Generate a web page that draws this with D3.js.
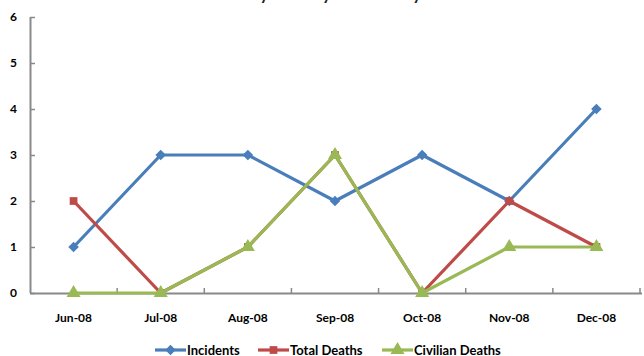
<!DOCTYPE html>
<html>
<head>
<meta charset="utf-8">
<script src="https://cdn.jsdelivr.net/npm/d3@7"></script>
<style>
  body { margin: 0; background: #fff; }
  svg { display: block; font-family: Lato, "Open Sans", sans-serif; }
</style>
</head>
<body>
<svg id="chart" width="644" height="356"></svg>
<script>
// datos del gráfico
const months = ['Jun-08', 'Jul-08', 'Aug-08', 'Sep-08', 'Oct-08', 'Nov-08', 'Dec-08'];
const incidents = [1, 3, 3, 2, 3, 2, 4];
const totalDeaths = [2, 0, 1, 3, 0, 2, 1];
const civilianDeaths = [0, 0, 1, 3, 0, 1, 1];
const yTicks = [0, 1, 2, 3, 4, 5, 6];
const titleText = 'Security Activity in Sadr City';

// el rombo es un cuadrado girado 45°
const series = [
  { name: 'Incidents', values: incidents, color: '#4A7EBB', marker: d3.symbolSquare, size: 56, rot: 45 },
  { name: 'Total Deaths', values: totalDeaths, color: '#BE4B48', marker: d3.symbolSquare, size: 60, rot: 0 },
  { name: 'Civilian Deaths', values: civilianDeaths, color: '#98B954', marker: d3.symbolTriangle, size: 85, rot: 0 }
];

const svg = d3.select('#chart');
const plot = { left: 30, right: 642, top: 17, bottom: 293 };

const x = d3.scaleBand().domain(months).range([plot.left, plot.right - 2]);
const y = d3.scaleLinear().domain([0, 6]).range([plot.bottom, plot.top]);
const axisColor = '#898989';

// título (recortado arriba, como en la imagen)
svg.append('text')
  .attr('x', 314).attr('y', 0)
  .attr('text-anchor', 'middle')
  .attr('font-size', 17).attr('font-weight', 700)
  .attr('fill', '#222')
  .text(titleText);

// eje Y
const gy = svg.append('g').attr('transform', `translate(${plot.left},0)`)
  .call(d3.axisRight(y).tickValues(yTicks).tickSize(5).tickFormat(d3.format('d')));
gy.select('.domain').attr('stroke', axisColor).attr('stroke-width', 2)
  .attr('d', `M0.5,${plot.top}V${plot.bottom}`);
gy.selectAll('.tick line').attr('stroke', axisColor).attr('stroke-width', 1.5);
gy.selectAll('.tick text')
  .attr('x', -13).attr('text-anchor', 'end')
  .attr('font-size', 12).attr('font-weight', 700).attr('fill', '#000')
  .attr('font-family', 'Lato, sans-serif');

// eje X
const gx = svg.append('g').attr('transform', `translate(0,${plot.bottom})`)
  .call(d3.axisBottom(x).tickSize(0).tickPadding(20));
gx.select('.domain').attr('stroke', axisColor).attr('stroke-width', 2)
  .attr('d', `M${plot.left},0.5H${plot.right}`);
gx.selectAll('.tick text')
  .attr('font-size', 12).attr('font-weight', 700).attr('fill', '#000')
  .attr('font-family', 'Lato, sans-serif');
// marcas entre categorías, hacia adentro
gx.selectAll('line.sep')
  .data(months)
  .join('line')
  .attr('class', 'sep')
  .attr('x1', d => x(d) + x.bandwidth()).attr('x2', d => x(d) + x.bandwidth())
  .attr('y1', 0).attr('y2', -5)
  .attr('stroke', axisColor).attr('stroke-width', 1.5);

const cx = i => x(months[i]) + x.bandwidth() / 2;
const line = d3.line().x((d, i) => cx(i)).y(d => y(d));

series.forEach(s => {
  const g = svg.append('g');
  g.append('path')
    .attr('d', line(s.values))
    .attr('fill', 'none')
    .attr('stroke', s.color)
    .attr('stroke-width', 3.2)
    .attr('stroke-linejoin', 'round');
  g.selectAll('path.mk')
    .data(s.values)
    .join('path')
    .attr('class', 'mk')
    .attr('transform', (d, i) => `translate(${cx(i)},${y(d)}) rotate(${s.rot})`)
    .attr('d', d3.symbol().type(s.marker).size(s.size))
    .attr('fill', s.color);
});

// leyenda
const legendX = [155, 258, 382];
const legend = svg.append('g').attr('transform', 'translate(0,350)');
series.forEach((s, i) => {
  const g = legend.append('g').attr('transform', `translate(${legendX[i]},0)`);
  g.append('line').attr('x1', 0).attr('x2', 31).attr('y1', 0).attr('y2', 0)
    .attr('stroke', s.color).attr('stroke-width', 3.2);
  g.append('path').attr('transform', `translate(15.5,0) rotate(${s.rot})`)
    .attr('d', d3.symbol().type(s.marker).size(s.size)).attr('fill', s.color);
  g.append('text').attr('x', 32).attr('y', 5)
    .attr('font-size', 13).attr('font-weight', 700).attr('fill', '#000')
    .text(s.name);
});
</script>
</body>
</html>
